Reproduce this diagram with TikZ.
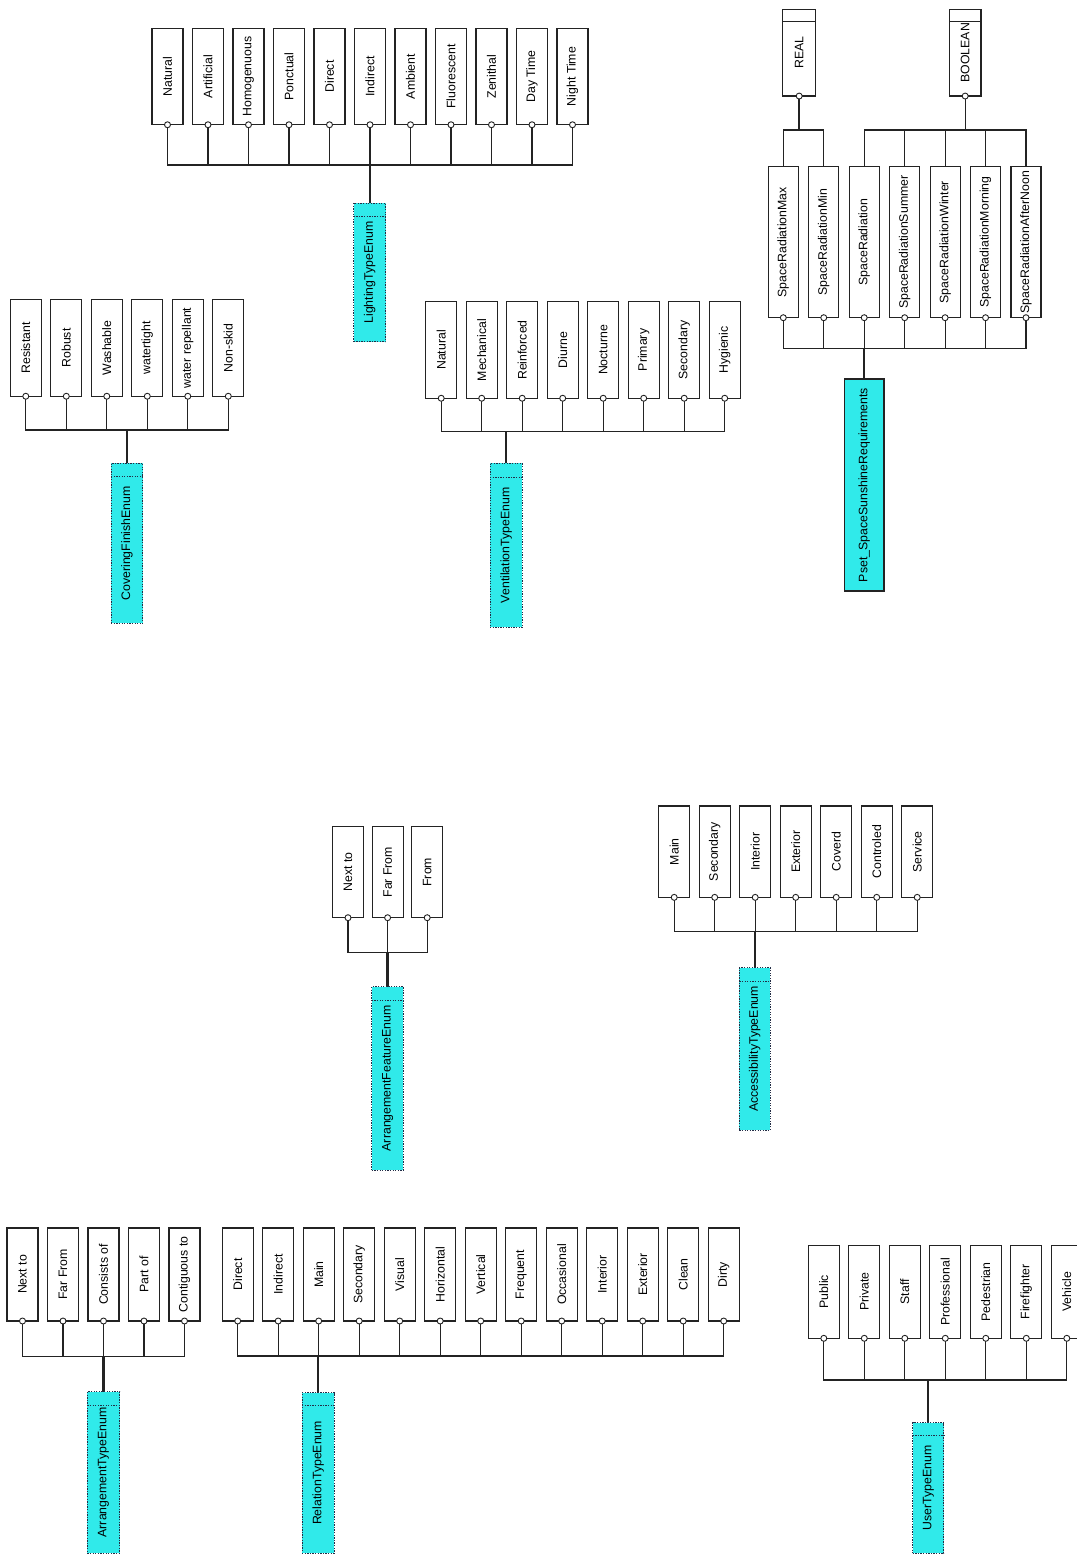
\documentclass[tikz,border=0pt]{standalone}
\usepackage{fontspec}
\setmainfont{Liberation Sans}
\usepackage{graphicx}
\usepackage{tikz}
\usetikzlibrary{positioning,backgrounds}
\definecolor{boxline}{RGB}{35,35,35}
\definecolor{enumcyan}{RGB}{48,234,234}
\definecolor{enumline}{RGB}{35,45,70}
\newcommand{\vtxt}[1]{\rotatebox{90}{#1}}

\begin{document}
\begin{tikzpicture}[
    x=1pt, y=-1pt,
    font=\fontsize{12.3}{14}\selectfont,
    node distance=9.5pt,
    portdot/.style={
        circle,
        draw=boxline,
        fill=white,
        line width=0.9pt,
        minimum size=6pt,
        inner sep=0pt,
        anchor=center
    },
    port/.style={label={[portdot]south:{}}},
    valbox/.style={
        rectangle,
        draw=boxline,
        fill=white,
        line width=1.15pt,
        minimum width=31pt,
        minimum height=96.5pt,
        inner sep=1pt,
        outer sep=0pt,
        port
    },
    lowbox/.style={valbox, minimum height=93pt},
    attrbox/.style={valbox, minimum width=30pt, minimum height=151pt},
    typebox/.style={valbox, minimum width=33pt, minimum height=86.7pt},
    enumbox/.style={
        rectangle,
        draw=enumline,
        fill=enumcyan,
        line width=1pt,
        dash pattern=on 1.3pt off 1.3pt,
        minimum width=32.3pt,
        inner sep=1pt,
        outer sep=0pt
    },
    psetbox/.style={
        rectangle,
        draw=boxline,
        fill=enumcyan,
        line width=1.15pt,
        minimum width=39.7pt,
        minimum height=212pt,
        inner sep=1pt,
        outer sep=0pt
    },
    wire/.style={line width=1.1pt, draw=boxline},
    trunk/.style={line width=2.3pt, draw=boxline},
    split/.style={line width=0.7pt, draw=enumline, dash pattern=on 1.3pt off 1.3pt}
]

\useasboundingbox (0,0) rectangle (1076,1555);

% lighting
\node[valbox] (lnatural) at (167.5,76.5) {\vtxt{Natural}};
\node[valbox, right=of lnatural] (lartificial) {\vtxt{Artificial}};
\node[valbox, right=of lartificial] (lhomogen) {\vtxt{Homogenuous}};
\node[valbox, right=of lhomogen] (lponctual) {\vtxt{Ponctual}};
\node[valbox, right=of lponctual] (ldirect) {\vtxt{Direct}};
\node[valbox, right=of ldirect] (lindirect) {\vtxt{Indirect}};
\node[valbox, right=of lindirect] (lambient) {\vtxt{Ambient}};
\node[valbox, right=of lambient] (lfluor) {\vtxt{Fluorescent}};
\node[valbox, right=of lfluor] (lzenithal) {\vtxt{Zenithal}};
\node[valbox, right=of lzenithal] (ldaytime) {\vtxt{Day Time}};
\node[valbox, right=of ldaytime] (lnighttime) {\vtxt{Night Time}};
\coordinate (lbus) at (0,165);
\node[enumbox, minimum height=138.4pt] (lightenum) at (369.8,272.5) {\vtxt{LightingTypeEnum}};
\draw[split] ([yshift=-13.5pt]lightenum.north west) -- ([yshift=-13.5pt]lightenum.north east);

% covering
\node[valbox] (cresistant) at (25.8,348) {\vtxt{Resistant}};
\node[valbox, right=of cresistant] (crobust) {\vtxt{Robust}};
\node[valbox, right=of crobust] (cwashable) {\vtxt{Washable}};
\node[valbox, right=of cwashable] (cwatertight) {\vtxt{watertight}};
\node[valbox, right=of cwatertight] (crepellant) {\vtxt{water repellant}};
\node[valbox, right=of crepellant] (cnonskid) {\vtxt{Non-skid}};
\coordinate (cbus) at (0,430);
\node[enumbox, minimum width=31.7pt, minimum height=160pt] (coverenum) at (127,543.3) {\vtxt{CoveringFinishEnum}};
\draw[split] ([yshift=-13.5pt]coverenum.north west) -- ([yshift=-13.5pt]coverenum.north east);

% ventilation
\node[valbox] (vnatural) at (441.2,350) {\vtxt{Natural}};
\node[valbox, right=of vnatural] (vmechanical) {\vtxt{Mechanical}};
\node[valbox, right=of vmechanical] (vreinforced) {\vtxt{Reinforced}};
\node[valbox, right=of vreinforced] (vdiurne) {\vtxt{Diurne}};
\node[valbox, right=of vdiurne] (vnocturne) {\vtxt{Nocturne}};
\node[valbox, right=of vnocturne] (vprimary) {\vtxt{Primary}};
\node[valbox, right=of vprimary] (vsecondary) {\vtxt{Secondary}};
\node[valbox, right=of vsecondary] (vhygienic) {\vtxt{Hygienic}};
\coordinate (vbus) at (0,431.7);
\node[enumbox, minimum height=164pt] (ventenum) at (506.2,545.3) {\vtxt{VentilationTypeEnum}};
\draw[split] ([yshift=-14pt]ventenum.north west) -- ([yshift=-14pt]ventenum.north east);

% sunshine pset
\node[typebox] (treal) at (799.2,52.7) {\vtxt{REAL}};
\node[typebox, minimum width=31.7pt] (tboolean) at (965.2,52.7) {\vtxt{BOOLEAN}};
\draw[wire] ([yshift=-12.4pt]treal.north west) -- ([yshift=-12.4pt]treal.north east);
\draw[wire] ([yshift=-12.4pt]tboolean.north west) -- ([yshift=-12.4pt]tboolean.north east);
\coordinate (typebus) at (0,130);
\node[attrbox] (smax) at (783.3,242.2) {\vtxt{SpaceRadiationMax}};
\node[attrbox, right=10.45pt of smax] (smin) {\vtxt{SpaceRadiationMin}};
\node[attrbox, right=10.45pt of smin] (srad) {\vtxt{SpaceRadiation}};
\node[attrbox, right=10.45pt of srad] (ssummer) {\vtxt{SpaceRadiationSummer}};
\node[attrbox, right=10.45pt of ssummer] (swinter) {\vtxt{SpaceRadiationWinter}};
\node[attrbox, right=10.45pt of swinter] (smorning) {\vtxt{SpaceRadiationMorning}};
\node[attrbox, right=10.45pt of smorning] (safternoon) {\vtxt{SpaceRadiationAfterNoon}};
\coordinate (sbus) at (0,348.3);
\node[psetbox] (psetnode) at (864.2,485) {\vtxt{Pset\_SpaceSunshineRequirements}};

% arrangement feature
\node[lowbox, minimum height=91pt] (fnextto) at (348,872.2) {\vtxt{Next to}};
\node[lowbox, minimum height=91pt, right=8.6pt of fnextto] (ffarfrom) {\vtxt{Far From}};
\node[lowbox, minimum height=91pt, right=8.6pt of ffarfrom] (ffrom) {\vtxt{From}};
\coordinate (fbus) at (0,952.3);
\node[enumbox, minimum width=31.7pt, minimum height=183.3pt] (featenum) at (387.6,1078.4) {\vtxt{ArrangementFeatureEnum}};
\draw[split] ([yshift=-14pt]featenum.north west) -- ([yshift=-14pt]featenum.north east);

% accessibility
\node[lowbox, minimum height=91.3pt] (amain) at (674.2,851.7) {\vtxt{Main}};
\node[lowbox, minimum height=91.3pt, right=of amain] (asecondary) {\vtxt{Secondary}};
\node[lowbox, minimum height=91.3pt, right=of asecondary] (ainterior) {\vtxt{Interior}};
\node[lowbox, minimum height=91.3pt, right=of ainterior] (aexterior) {\vtxt{Exterior}};
\node[lowbox, minimum height=91.3pt, right=of aexterior] (acoverd) {\vtxt{Coverd}};
\node[lowbox, minimum height=91.3pt, right=of acoverd] (acontroled) {\vtxt{Controled}};
\node[lowbox, minimum height=91.3pt, right=of acontroled] (aservice) {\vtxt{Service}};
\coordinate (abus) at (0,931.7);
\node[enumbox, minimum width=31pt, minimum height=162.3pt] (accessenum) at (754.8,1048.9) {\vtxt{AccessibilityTypeEnum}};
\draw[split] ([yshift=-14pt]accessenum.north west) -- ([yshift=-14pt]accessenum.north east);

% arrangement
\node[lowbox] (gnextto) at (22.5,1274.5) {\vtxt{Next to}};
\node[lowbox, right=of gnextto] (gfarfrom) {\vtxt{Far From}};
\node[lowbox, right=of gfarfrom] (gconsists) {\vtxt{Consists of}};
\node[lowbox, right=of gconsists] (gpartof) {\vtxt{Part of}};
\node[lowbox, right=of gpartof] (gcontiguous) {\vtxt{Contiguous to}};
\coordinate (gbus) at (0,1356.7);
\node[enumbox, minimum height=161.3pt] (arrenum) at (103.5,1472.4) {\vtxt{ArrangementTypeEnum}};
\draw[split] ([yshift=-14pt]arrenum.north west) -- ([yshift=-14pt]arrenum.north east);

% relation
\node[lowbox] (rdirect) at (237.7,1274.5) {\vtxt{Direct}};
\node[lowbox, right=of rdirect] (rindirect) {\vtxt{Indirect}};
\node[lowbox, right=of rindirect] (rmain) {\vtxt{Main}};
\node[lowbox, right=of rmain] (rsecondary) {\vtxt{Secondary}};
\node[lowbox, right=of rsecondary] (rvisual) {\vtxt{Visual}};
\node[lowbox, right=of rvisual] (rhorizontal) {\vtxt{Horizontal}};
\node[lowbox, right=of rhorizontal] (rvertical) {\vtxt{Vertical}};
\node[lowbox, right=of rvertical] (rfrequent) {\vtxt{Frequent}};
\node[lowbox, right=of rfrequent] (roccasional) {\vtxt{Occasional}};
\node[lowbox, right=of roccasional] (rinterior) {\vtxt{Interior}};
\node[lowbox, right=of rinterior] (rexterior) {\vtxt{Exterior}};
\node[lowbox, right=of rexterior] (rclean) {\vtxt{Clean}};
\node[lowbox, right=of rclean] (rdirty) {\vtxt{Dirty}};
\coordinate (rbus) at (0,1356);
\node[enumbox, minimum height=160.3pt] (relenum) at (318.2,1472.9) {\vtxt{RelationTypeEnum}};
\draw[split] ([yshift=-12.5pt]relenum.north west) -- ([yshift=-12.5pt]relenum.north east);

% user
\node[lowbox] (upublic) at (823.8,1291.8) {\vtxt{Public}};
\node[lowbox, right=of upublic] (uprivate) {\vtxt{Private}};
\node[lowbox, right=of uprivate] (ustaff) {\vtxt{Staff}};
\node[lowbox, right=of ustaff] (uprofessional) {\vtxt{Professional}};
\node[lowbox, right=of uprofessional] (upedestrian) {\vtxt{Pedestrian}};
\node[lowbox, right=of upedestrian] (ufirefighter) {\vtxt{Firefighter}};
\node[lowbox, right=of ufirefighter] (uvehicle) {\vtxt{Vehicle}};
\coordinate (ubus) at (0,1380);
\node[enumbox, minimum width=31.3pt, minimum height=130.3pt] (userenum) at (928.3,1487.9) {\vtxt{UserTypeEnum}};
\draw[split] ([yshift=-12.5pt]userenum.north west) -- ([yshift=-12.5pt]userenum.north east);

\begin{scope}[on background layer]
\fill[white] (0,0) rectangle (1076,1555);

\draw[wire] (lnatural.south) -- (lnatural.south |- lbus) -- (lnighttime.south |- lbus) -- (lnighttime.south)
    (lartificial.south) -- (lartificial.south |- lbus)
    (lhomogen.south) -- (lhomogen.south |- lbus)
    (lponctual.south) -- (lponctual.south |- lbus)
    (ldirect.south) -- (ldirect.south |- lbus)
    (lindirect.south) -- (lindirect.south |- lbus)
    (lambient.south) -- (lambient.south |- lbus)
    (lfluor.south) -- (lfluor.south |- lbus)
    (lzenithal.south) -- (lzenithal.south |- lbus)
    (ldaytime.south) -- (ldaytime.south |- lbus);
\draw[trunk] (lightenum.north |- lbus) -- (lightenum.north);

\draw[wire] (cresistant.south) -- (cresistant.south |- cbus) -- (cnonskid.south |- cbus) -- (cnonskid.south)
    (crobust.south) -- (crobust.south |- cbus)
    (cwashable.south) -- (cwashable.south |- cbus)
    (cwatertight.south) -- (cwatertight.south |- cbus)
    (crepellant.south) -- (crepellant.south |- cbus);
\draw[trunk] (coverenum.north |- cbus) -- (coverenum.north);

\draw[wire] (vnatural.south) -- (vnatural.south |- vbus) -- (vhygienic.south |- vbus) -- (vhygienic.south)
    (vmechanical.south) -- (vmechanical.south |- vbus)
    (vreinforced.south) -- (vreinforced.south |- vbus)
    (vdiurne.south) -- (vdiurne.south |- vbus)
    (vnocturne.south) -- (vnocturne.south |- vbus)
    (vprimary.south) -- (vprimary.south |- vbus)
    (vsecondary.south) -- (vsecondary.south |- vbus);
\draw[trunk] (ventenum.north |- vbus) -- (ventenum.north);

\draw[trunk] (treal.south) -- (treal.south |- typebus);
\draw[wire] (tboolean.south) -- (tboolean.south |- typebus);
\draw[wire] (smax.north) -- (smax.north |- typebus) -- (smin.north |- typebus) -- (smin.north);
\draw[wire] (srad.north) -- (srad.north |- typebus) -- (safternoon.north |- typebus) -- (safternoon.north)
    (ssummer.north) -- (ssummer.north |- typebus)
    (swinter.north) -- (swinter.north |- typebus)
    (smorning.north) -- (smorning.north |- typebus);
\draw[wire] (smax.south) -- (smax.south |- sbus) -- (safternoon.south |- sbus) -- (safternoon.south)
    (smin.south) -- (smin.south |- sbus)
    (srad.south) -- (srad.south |- sbus)
    (ssummer.south) -- (ssummer.south |- sbus)
    (swinter.south) -- (swinter.south |- sbus)
    (smorning.south) -- (smorning.south |- sbus);
\draw[trunk] (psetnode.north |- sbus) -- (psetnode.north);

\draw[wire] (fnextto.south) -- (fnextto.south |- fbus) -- (ffrom.south |- fbus) -- (ffrom.south)
    (ffarfrom.south) -- (ffarfrom.south |- fbus);
\draw[trunk] (featenum.north |- fbus) -- (featenum.north);

\draw[wire] (amain.south) -- (amain.south |- abus) -- (aservice.south |- abus) -- (aservice.south)
    (asecondary.south) -- (asecondary.south |- abus)
    (ainterior.south) -- (ainterior.south |- abus)
    (aexterior.south) -- (aexterior.south |- abus)
    (acoverd.south) -- (acoverd.south |- abus)
    (acontroled.south) -- (acontroled.south |- abus);
\draw[trunk] (accessenum.north |- abus) -- (accessenum.north);

\draw[wire] (gnextto.south) -- (gnextto.south |- gbus) -- (gcontiguous.south |- gbus) -- (gcontiguous.south)
    (gfarfrom.south) -- (gfarfrom.south |- gbus)
    (gconsists.south) -- (gconsists.south |- gbus)
    (gpartof.south) -- (gpartof.south |- gbus);
\draw[trunk] (arrenum.north |- gbus) -- (arrenum.north);

\draw[wire] (rdirect.south) -- (rdirect.south |- rbus) -- (rdirty.south |- rbus) -- (rdirty.south)
    (rindirect.south) -- (rindirect.south |- rbus)
    (rmain.south) -- (rmain.south |- rbus)
    (rsecondary.south) -- (rsecondary.south |- rbus)
    (rvisual.south) -- (rvisual.south |- rbus)
    (rhorizontal.south) -- (rhorizontal.south |- rbus)
    (rvertical.south) -- (rvertical.south |- rbus)
    (rfrequent.south) -- (rfrequent.south |- rbus)
    (roccasional.south) -- (roccasional.south |- rbus)
    (rinterior.south) -- (rinterior.south |- rbus)
    (rexterior.south) -- (rexterior.south |- rbus)
    (rclean.south) -- (rclean.south |- rbus);
\draw[trunk] (relenum.north |- rbus) -- (relenum.north);

\draw[wire] (upublic.south) -- (upublic.south |- ubus) -- (uvehicle.south |- ubus) -- (uvehicle.south)
    (uprivate.south) -- (uprivate.south |- ubus)
    (ustaff.south) -- (ustaff.south |- ubus)
    (uprofessional.south) -- (uprofessional.south |- ubus)
    (upedestrian.south) -- (upedestrian.south |- ubus)
    (ufirefighter.south) -- (ufirefighter.south |- ubus);
\draw[trunk] (userenum.north |- ubus) -- (userenum.north);
\end{scope}

\end{tikzpicture}
\end{document}
